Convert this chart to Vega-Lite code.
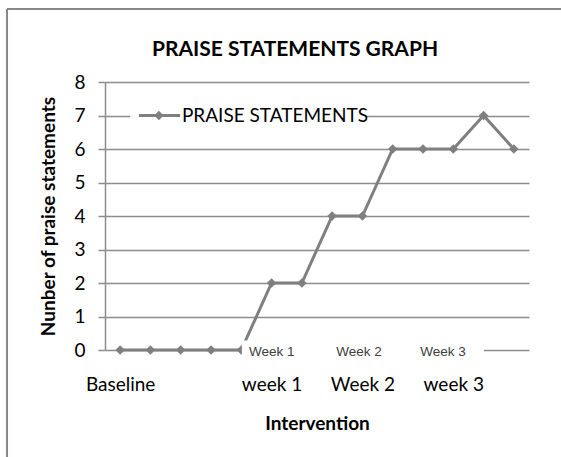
{
  "$schema": "https://vega.github.io/schema/vega-lite/v6.json",
  "width": 424,
  "height": 268,
  "autosize": {"type": "none"},
  "padding": {"left": 105, "top": 82, "right": 32, "bottom": 107},
  "background": "white",
  "config": {"font": "Lato", "view": {"stroke": null}},
  "title": {"text": "PRAISE STATEMENTS GRAPH", "font": "Lato", "fontSize": 21, "fontWeight": "bold", "color": "#000000", "anchor": "middle", "dx": -22, "baseline": "bottom", "offset": -73},
  "data": {"values": [
    {"i": 1, "v": 0}, {"i": 2, "v": 0}, {"i": 3, "v": 0}, {"i": 4, "v": 0}, {"i": 5, "v": 0},
    {"i": 6, "v": 2}, {"i": 7, "v": 2}, {"i": 8, "v": 4}, {"i": 9, "v": 4}, {"i": 10, "v": 6},
    {"i": 11, "v": 6}, {"i": 12, "v": 6}, {"i": 13, "v": 7}, {"i": 14, "v": 6}
  ]},
  "layer": [
    {
      "mark": {"type": "line", "color": "#7f7f7f", "strokeWidth": 3},
      "encoding": {
        "x": {"field": "i", "type": "quantitative",
          "scale": {"domain": [0.5, 14.5], "nice": false, "zero": false},
          "axis": {"values": [1, 6, 9, 12],
            "labelExpr": "datum.value == 1 ? 'Baseline' : datum.value == 6 ? 'week 1' : datum.value == 9 ? 'Week 2' : 'week 3'",
            "ticks": false, "domain": false, "grid": false,
            "labelFont": "Lato", "labelFontSize": 19, "labelColor": "#000000", "labelBaseline": "alphabetic",
            "labelPadding": 40, "labelFlush": false, "labelOverlap": false,
            "title": "Intervention", "titleFont": "Lato", "titleFontSize": 19, "titleFontWeight": "bold", "titleColor": "#000000", "titlePadding": 20}},
        "y": {"field": "v", "type": "quantitative",
          "scale": {"domain": [0, 8], "nice": false},
          "axis": {"values": [0, 1, 2, 3, 4, 5, 6, 7, 8], "tickCount": 9, "grid": true, "gridColor": "#8c8c8c", "gridWidth": 1.5,
            "domainColor": "#8c8c8c", "domainWidth": 1.5, "tickColor": "#8c8c8c", "tickSize": 7, "tickWidth": 1.5,
            "labelFont": "Lato", "labelFontSize": 19, "labelColor": "#000000", "labelPadding": 13, "labelOverlap": false,
            "title": "Nunber of praise statements", "titleFont": "Lato", "titleFontSize": 19, "titleFontWeight": "bold", "titleColor": "#000000", "titlePadding": 15}}
      }
    },
    {
      "mark": {"type": "point", "shape": "diamond", "filled": true, "size": 90, "color": "#7f7f7f", "opacity": 1},
      "encoding": {
        "x": {"field": "i", "type": "quantitative"},
        "y": {"field": "v", "type": "quantitative"}
      }
    },
    {
      "data": {"values": [{}]},
      "mark": {"type": "rect", "fill": "white"},
      "encoding": {
        "x": {"datum": 5.02, "type": "quantitative"}, "x2": {"datum": 13.01},
        "y": {"datum": -0.35, "type": "quantitative"}, "y2": {"datum": 0.28}
      }
    },
    {
      "data": {"values": [{"label": "Week 1", "pos": 6.01}, {"label": "Week 2", "pos": 8.89}, {"label": "Week 3", "pos": 11.66}]},
      "mark": {"type": "text", "font": "Liberation Sans", "fontSize": 13.5, "color": "#404040", "align": "center", "baseline": "middle"},
      "encoding": {
        "x": {"field": "pos", "type": "quantitative"},
        "y": {"datum": -0.05, "type": "quantitative"},
        "text": {"field": "label"}
      }
    },
    {
      "data": {"values": [{}]},
      "mark": {"type": "rect", "fill": "white"},
      "encoding": {
        "x": {"datum": 1.33, "type": "quantitative"}, "x2": {"datum": 9.12},
        "y": {"datum": 6.8, "type": "quantitative"}, "y2": {"datum": 7.2}
      }
    },
    {
      "data": {"values": [{}]},
      "mark": {"type": "rule", "color": "#7f7f7f", "strokeWidth": 3},
      "encoding": {
        "x": {"datum": 1.62, "type": "quantitative"}, "x2": {"datum": 2.98},
        "y": {"datum": 7, "type": "quantitative"}
      }
    },
    {
      "data": {"values": [{}]},
      "mark": {"type": "point", "shape": "diamond", "filled": true, "size": 90, "color": "#7f7f7f", "opacity": 1},
      "encoding": {
        "x": {"datum": 2.28, "type": "quantitative"},
        "y": {"datum": 7, "type": "quantitative"}
      }
    },
    {
      "data": {"values": [{}]},
      "mark": {"type": "text", "font": "Lato", "fontSize": 19, "color": "#000000", "align": "left", "baseline": "middle", "text": "PRAISE STATEMENTS"},
      "encoding": {
        "x": {"datum": 3.04, "type": "quantitative"},
        "y": {"datum": 7, "type": "quantitative"}
      }
    },
    {
      "data": {"values": [{}]},
      "mark": {"type": "rule", "color": "#878787", "strokeWidth": 2},
      "encoding": {
        "x": {"datum": -2.735, "type": "quantitative"},
        "y": {"datum": -3.4, "type": "quantitative"}, "y2": {"datum": 10.18}
      }
    },
    {
      "data": {"values": [{}]},
      "mark": {"type": "rule", "color": "#878787", "strokeWidth": 2},
      "encoding": {
        "x": {"datum": -2.735, "type": "quantitative"}, "x2": {"datum": 15.7},
        "y": {"datum": 10.18, "type": "quantitative"}
      }
    }
  ]
}
